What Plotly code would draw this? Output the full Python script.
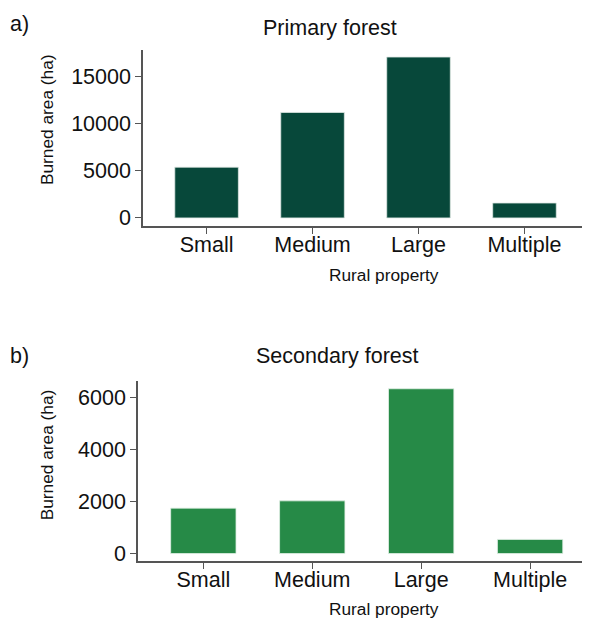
import plotly.graph_objects as go

categories = ["Small", "Medium", "Large", "Multiple"]
primary_values = [5370, 11160, 17020, 1580]
secondary_values = [1750, 2030, 6350, 545]
primary_ticks = [0, 5000, 10000, 15000]
secondary_ticks = [0, 2000, 4000, 6000]

# compensate for the page offset so the figure lines up with the window
OFFX, OFFY = 8, 5
W, H = 590 - OFFX, 620 - OFFY
def px(x):
    return (x - OFFX) / W
def py(y):
    return 1 - (y - OFFY) / H

FONT = "Liberation Sans, Arial, sans-serif"
AX = "#555555"
TICK = 21.5
LAB = 17.3

fig = go.Figure()
fig.add_trace(go.Bar(x=categories, y=primary_values, marker=dict(color="#07483a", line=dict(color="#dfe8e4", width=0.8)),
                     width=0.6, xaxis="x", yaxis="y", showlegend=False))
fig.add_trace(go.Bar(x=categories, y=secondary_values, marker=dict(color="#268a47", line=dict(color="#e2f0e6", width=0.8)),
                     width=0.6, xaxis="x2", yaxis="y2", showlegend=False))

common = dict(showline=True, linecolor=AX, linewidth=1.5, ticks="outside", ticklen=6, tickcolor=AX,
              tickfont=dict(size=TICK, color="#111", family=FONT), showgrid=False, zeroline=False)

fig.update_layout(
    width=W, height=H, margin=dict(l=0, r=0, t=0, b=0),
    paper_bgcolor="white", plot_bgcolor="white",
    font=dict(family=FONT, color="#111"),
    xaxis=dict(domain=[px(143), min(1.0, px(587))], anchor="y", range=[-0.6, 3.59], ticklabelstandoff=-8, **common),
    yaxis=dict(domain=[py(225), py(47)], anchor="x", range=[-874, 17800], tickvals=primary_ticks,
               ticktext=[str(v) for v in primary_ticks], **common),
    xaxis2=dict(domain=[px(138), 1.0], anchor="y2", range=[-0.6, 3.55], ticklabelstandoff=-8, **common),
    yaxis2=dict(domain=[py(563), py(381)], anchor="x2", range=[-305, 6651], tickvals=secondary_ticks,
                ticktext=[str(v) for v in secondary_ticks], **common),
)

def ann(text, x, y, size, angle=0):
    fig.add_annotation(text=text, x=px(x), y=py(y), xref="paper", yref="paper", showarrow=False,
                       xanchor="center", yanchor="middle", textangle=angle,
                       font=dict(size=size, color="#111", family=FONT))

ann("a)", 19, 21, TICK)
ann("Primary forest", 330, 25, TICK)
ann("Burned area (ha)", 47, 118, LAB, -90)
ann("Rural property", 384, 274, LAB)
ann("b)", 19, 356, TICK)
ann("Secondary forest", 337, 356, TICK)
ann("Burned area (ha)", 47, 456, LAB, -90)
ann("Rural property", 384, 611, LAB)

fig.write_html("out.html")
